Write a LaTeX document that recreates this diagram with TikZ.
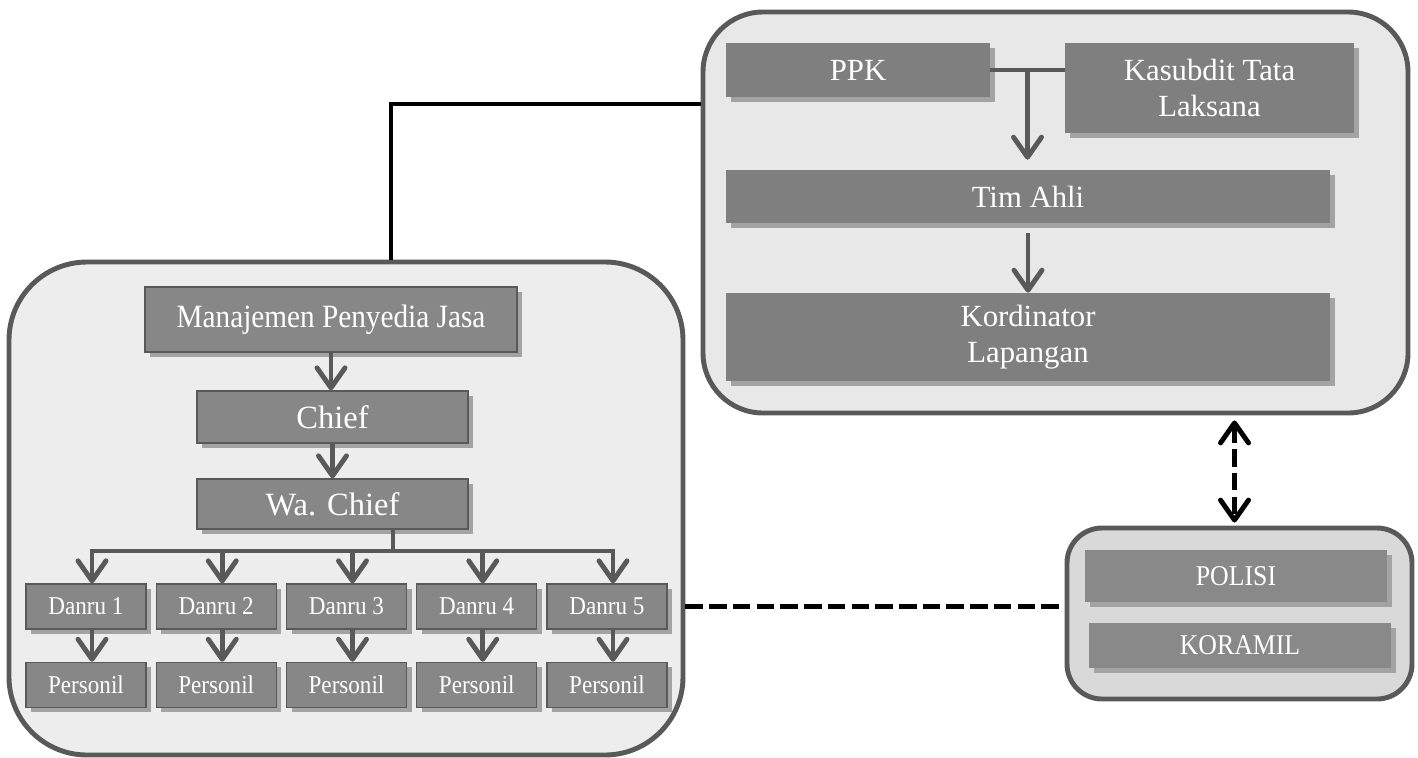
\documentclass[tikz,border=0pt]{standalone}
\usepackage{fontspec}
\setmainfont{Liberation Serif}
\newfontfamily\narrowserif{Liberation Serif}[FakeStretch=0.9]
\usetikzlibrary{arrows.meta, positioning, calc, shadows}

\definecolor{rim}{HTML}{595959}
\definecolor{panelL}{HTML}{EDEDED}
\definecolor{panelR}{HTML}{E8E8E8}
\definecolor{panelS}{HTML}{D9D9D9}
\definecolor{unitL}{HTML}{878787}
\definecolor{unitR}{HTML}{7F7F7F}
\definecolor{unitS}{HTML}{898989}
\definecolor{shade}{HTML}{A3A3A3}

\begin{document}
\begin{tikzpicture}[
    x=0.2mm, y=-0.2mm,
    panel/.style={rectangle, draw=rim, line width=2.8pt, inner sep=0pt},
    unit/.style={rectangle, inner sep=0pt, align=center, text=white,
        general shadow={fill=shade, shadow xshift=1mm, shadow yshift=-1mm}},
    left unit/.style={unit, fill=unitL, draw=rim, line width=0.8pt},
    crew unit/.style={left unit, minimum width=24mm, minimum height=9mm, font=\narrowserif\fontsize{14.6}{17}\selectfont},
    right unit/.style={unit, fill=unitR, font=\fontsize{17.5}{20.5}\selectfont},
    side unit/.style={unit, fill=unitS, minimum width=60.4mm, font=\narrowserif\fontsize{16.3}{19}\selectfont},
    link/.style={draw=rim, line width=2.8pt},
    arrow/.style={link, -{Straight Barb[length=4mm, width=5.6mm, round]}},
    bond/.style={line width=2.6pt},
    dashline/.style={line width=2.8pt, dash pattern=on 10pt off 3.5pt}
]
\useasboundingbox (0,0) rectangle (1418,757);

\node[panel, fill=panelR, rounded corners=12mm, minimum width=141mm, minimum height=80.2mm] (grpTop) at (1055.5,212.5) {};
\node[panel, fill=panelL, rounded corners=15.6mm, minimum width=134.8mm, minimum height=98.6mm] (grpLeft) at (346,508.5) {};
\node[panel, fill=panelS, rounded corners=7mm, minimum width=69mm, minimum height=34.2mm] (grpSide) at (1239.5,613.5) {};

\node[right unit, minimum width=52.8mm, minimum height=10.8mm] (ppk) at (858,70) {PPK};
\node[right unit, minimum width=57.8mm, minimum height=18mm] (kasubdit) at (1209.5,88) {Kasubdit Tata\\Laksana};
\node[right unit, minimum width=120.8mm, minimum height=10.6mm] (timahli) at (1028,196.5) {Tim Ahli};
\node[right unit, minimum width=120.8mm, minimum height=17.6mm] (kordinator) at (1028,337) {Kordinator\\Lapangan};

\node[left unit, minimum width=74.4mm, minimum height=13mm, font=\narrowserif\fontsize{18.5}{22}\selectfont] (mgmt) at (331,319.5) {Manajemen Penyedia Jasa};
\node[left unit, minimum width=54.2mm, minimum height=10.4mm, font=\fontsize{18.5}{22}\selectfont] (chief) at (332.5,417) {Chief};
\node[left unit, minimum width=54.2mm, minimum height=10mm, font=\fontsize{18.5}{22}\selectfont] (wachief) at (332.5,504) {Wa. Chief};
\foreach \i in {1,...,5} {
    \node[crew unit] (danru\i) at ({86+130.25*(\i-1)},606.5) {Danru \i};
    \node[crew unit, below=6.4mm of danru\i] (personil\i) {Personil};
}

\node[side unit, minimum height=10.4mm] (polisi) at (1236,576) {POLISI};
\node[side unit, minimum height=9mm] (koramil) at (1240,645.5) {KORAMIL};

\coordinate (split) at ($(ppk.east)!0.5!(ppk.east -| kasubdit.west)$);
\draw[link] (ppk.east) -- (ppk.east -| kasubdit.west);
\draw[arrow, shorten >=2mm] (split) -- (split |- timahli.north);
\draw[arrow, shorten <=2mm] (timahli.south) -- (kordinator.north);

\draw[arrow] (mgmt.south) -- (mgmt.south |- chief.north);
\draw[arrow] (chief.south) -- (chief.south |- wachief.north);
\coordinate (bus) at (393,551);
\foreach \i in {1,...,5} {
    \draw[arrow] (wachief.south -| bus) -- (bus) -| ([xshift=1.2mm]danru\i.north);
    \draw[arrow] ([xshift=1.2mm]danru\i.south) -- ([xshift=1.2mm]personil\i.north);
}

\coordinate (elbow) at (391,104);
\draw[bond] (grpLeft.north -| elbow) |- (grpTop.west |- elbow);
\draw[dashline] (grpLeft.east |- danru5) -- (grpSide.west |- danru5);
\draw[dashline, {Straight Barb[length=4mm, width=5.6mm, round]}-{Straight Barb[length=4mm, width=5.6mm, round]}, shorten <=1mm, shorten >=0.6mm] ([xshift=-1mm]grpTop.south -| grpSide.north) -- ([xshift=-1mm]grpSide.north);
\end{tikzpicture}
\end{document}
